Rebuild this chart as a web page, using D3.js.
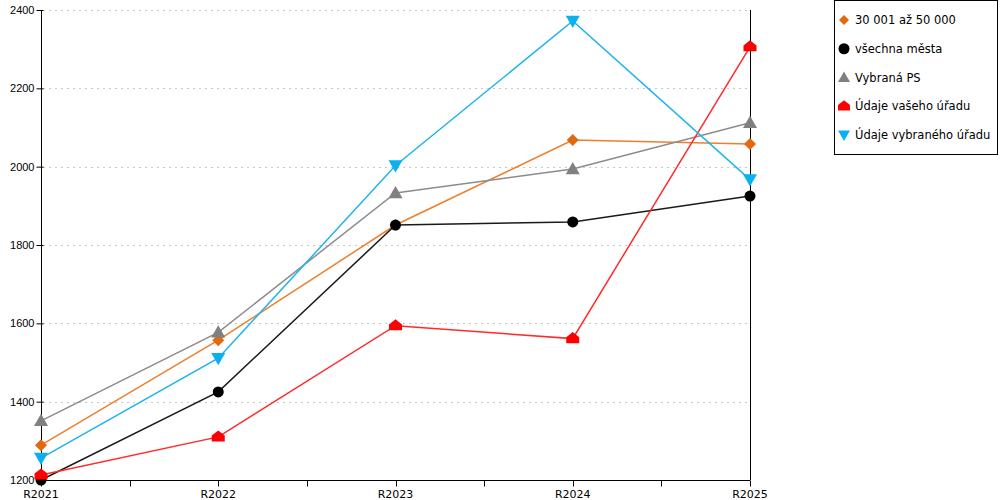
<!DOCTYPE html>
<html>
<head>
<meta charset="utf-8">
<script src="https://cdn.jsdelivr.net/npm/d3@7"></script>
<style>
  body { margin: 0; background: #fff; }
  svg { font-family: "DejaVu Sans", Verdana, sans-serif; }
</style>
</head>
<body>
<div id="chart"></div>
<script>
// data
const years = ["R2021", "R2022", "R2023", "R2024", "R2025"];
const yTicks = [1200, 1400, 1600, 1800, 2000, 2200, 2400];

const vel30_50 = [1289, 1557, 1851, 2068, 2058];
const vsechnaMesta = [1200, 1425, 1851, 1859, 1925];
const vybranaPS = [1351, 1577, 1933, 1994, 2112];
const vasUrad = [1213, 1310, 1594, 1561, 2306];
const vybranyUrad = [1256, 1511, 2003, 2372, 1967];

const seriesNames = ["30 001 až 50 000", "všechna města", "Vybraná PS", "Údaje vašeho úřadu", "Údaje vybraného úřadu"];

const WIDTH = 1000;
const HEIGHT = 500;

const series = [
  { name: seriesNames[0], values: vel30_50, line: "#EE7F2D", fill: "#E2690F", shape: "diamond" },
  { name: seriesNames[1], values: vsechnaMesta, line: "#1a1a1a", fill: "#000000", shape: "circle" },
  { name: seriesNames[2], values: vybranaPS, line: "#8C8C8C", fill: "#808080", shape: "triangle" },
  { name: seriesNames[3], values: vasUrad, line: "#FF2A2A", fill: "#FF0000", shape: "house" },
  { name: seriesNames[4], values: vybranyUrad, line: "#1EB4EC", fill: "#0AB0F0", shape: "down" },
];

const SVG = d3.select("#chart").append("svg")
  .attr("width", WIDTH)
  .attr("height", HEIGHT);

const x = d3.scalePoint().domain(years).range([41, 750]);
const y = d3.scaleLinear().domain([1200, 2400]).range([480, 10]);

// gridlines
SVG.append("g")
  .selectAll("line")
  .data(yTicks.slice(1))
  .join("line")
  .attr("x1", 43)
  .attr("x2", 748)
  .attr("y1", d => Math.round(y(d)) + 0.5)
  .attr("y2", d => Math.round(y(d)) + 0.5)
  .attr("stroke", "#c8c8c8")
  .attr("stroke-dasharray", "2,4");

// y axis
const yAxis = SVG.append("g")
  .attr("transform", "translate(41.5,0)")
  .call(d3.axisLeft(y).tickValues(yTicks).tickSize(5).tickFormat(d3.format("d")));
yAxis.selectAll("path, line").attr("stroke", "#000");
yAxis.selectAll(".tick line").attr("x2", -5).attr("x1", 2);
yAxis.selectAll("text").attr("font-size", 11).attr("fill", "#000").attr("x", -7);
yAxis.select(".domain").attr("d", `M0,${y(2400)}V${y(1200)}`);

// x axis, with extra ticks halfway between categories
const step = x.step();
const tickPos = [];
years.forEach((yr, i) => {
  tickPos.push(x(yr));
  if (i < years.length - 1) tickPos.push(x(yr) + step / 2);
});
const xAxis = SVG.append("g").attr("transform", "translate(0,480.5)");
xAxis.append("line")
  .attr("x1", 41).attr("x2", 750)
  .attr("stroke", "#000");
xAxis.selectAll(".tk")
  .data(tickPos)
  .join("line")
  .attr("class", "tk")
  .attr("x1", d => Math.round(d) + 0.5)
  .attr("x2", d => Math.round(d) + 0.5)
  .attr("y1", 0)
  .attr("y2", 6)
  .attr("stroke", "#000");
xAxis.selectAll("text")
  .data(years)
  .join("text")
  .attr("x", d => x(d))
  .attr("y", 17)
  .attr("text-anchor", "middle")
  .attr("font-size", 11)
  .text(d => d);

// right border line
SVG.append("line")
  .attr("x1", 750.5).attr("x2", 750.5)
  .attr("y1", y(2400)).attr("y2", 480)
  .attr("stroke", "#000");

function markerPath(shape, s) {
  if (shape === "diamond") return `M0,${-s}L${s},0L0,${s}L${-s},0Z`;
  if (shape === "triangle") return `M0,${-s}L${s},${s * 0.75}L${-s},${s * 0.75}Z`;
  if (shape === "down") return `M${-s},${-s * 0.75}L${s},${-s * 0.75}L0,${s}Z`;
  if (shape === "house") return `M0,${-s}L${s},${-s * 0.2}L${s},${s * 0.7}L${-s},${s * 0.7}L${-s},${-s * 0.2}Z`;
  return null;
}

const line = d3.line()
  .x((d, i) => x(years[i]))
  .y(d => y(d));

const sizes = { diamond: 6, circle: 5.5, triangle: 7, house: 6.5, down: 7 };

series.forEach(s => {
  SVG.append("path")
    .datum(s.values)
    .attr("d", line)
    .attr("fill", "none")
    .attr("stroke", s.line)
    .attr("stroke-width", 1.5);
});

series.forEach(s => {
  const g = SVG.append("g");
  s.values.forEach((v, i) => {
    if (s.shape === "circle") {
      g.append("circle").attr("cx", x(years[i])).attr("cy", y(v)).attr("r", sizes.circle).attr("fill", s.fill);
    } else {
      g.append("path")
        .attr("transform", `translate(${x(years[i])},${y(v)})`)
        .attr("d", markerPath(s.shape, sizes[s.shape]))
        .attr("fill", s.fill);
    }
  });
});

// legend
const legend = SVG.append("g");
legend.append("rect")
  .attr("x", 834.5).attr("y", 0.5)
  .attr("width", 163).attr("height", 154)
  .attr("fill", "#fff")
  .attr("stroke", "#000");

const legendY = d3.scalePoint().domain(seriesNames).range([20, 135]);
series.forEach(s => {
  const cy = legendY(s.name);
  if (s.shape === "circle") {
    legend.append("circle").attr("cx", 844).attr("cy", cy).attr("r", 5.5).attr("fill", s.fill);
  } else {
    const ms = { diamond: 5, triangle: 6, house: 6, down: 6 }[s.shape];
    legend.append("path")
      .attr("transform", `translate(844,${cy})`)
      .attr("d", markerPath(s.shape, ms))
      .attr("fill", s.fill);
  }
  legend.append("text")
    .attr("x", 855)
    .attr("y", cy)
    .attr("dy", "0.35em")
    .attr("font-size", 11.5)
    .text(s.name);
});
</script>
</body>
</html>
